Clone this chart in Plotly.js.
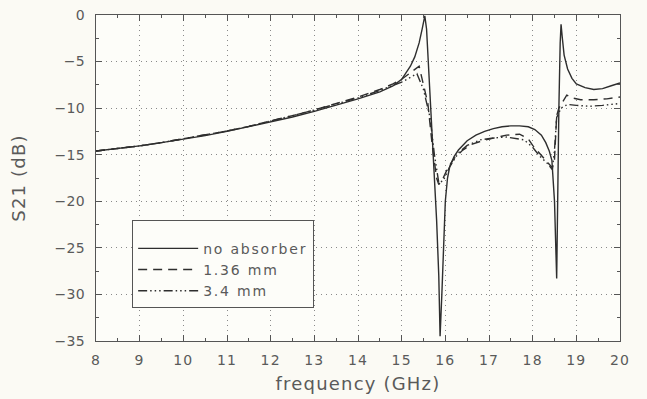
<!DOCTYPE html>
<html>
<head>
<meta charset="utf-8">
<script src="https://cdn.plot.ly/plotly-3.0.1.min.js"></script>
<style>
html,body{margin:0;padding:0;background:#fbfaf4;}
#chart{width:647px;height:399px;}
.xtick text{letter-spacing:1.2px;}
.ytick text{letter-spacing:0.3px;}
.xtitle,.ytitle{letter-spacing:1.2px;}
.legendtext{letter-spacing:1.8px;}
</style>
</head>
<body>
<div id="chart"></div>
<script>
// frequency (GHz) and S21 (dB)
const freqNoAbsorber = [8, 8.5, 9, 9.5, 10, 10.5, 11, 11.5, 12, 12.5, 13, 13.5, 14, 14.5, 14.8, 15.0, 15.2, 15.3, 15.4, 15.47, 15.53, 15.57, 15.62, 15.68, 15.74, 15.8, 15.85, 15.88, 15.92, 15.96, 16.0, 16.05, 16.1, 16.2, 16.3, 16.5, 16.7, 16.9, 17.1, 17.3, 17.5, 17.7, 17.9, 18.05, 18.2, 18.3, 18.38, 18.44, 18.5, 18.55, 18.57, 18.6, 18.63, 18.65, 18.68, 18.72, 18.8, 18.9, 19.0, 19.2, 19.4, 19.6, 19.8, 20];
const s21NoAbsorber = [-14.6, -14.35, -14.05, -13.7, -13.35, -12.95, -12.5, -12.0, -11.5, -10.95, -10.35, -9.7, -9.0, -8.25, -7.6, -6.9, -5.5, -4.5, -3.0, -1.5, -0.1, -1.5, -6.0, -11.0, -16.0, -22.0, -28.0, -34.5, -30.0, -24.0, -20.0, -17.5, -16.3, -15.2, -14.5, -13.5, -12.9, -12.5, -12.2, -12.0, -11.9, -11.9, -12.0, -12.3, -12.9, -13.7, -14.6, -15.6, -20.0, -28.3, -20.0, -10.0, -3.0, -1.0, -2.5, -4.3, -5.8, -6.8, -7.4, -7.8, -8.0, -7.9, -7.6, -7.3];

const freq136mm = [8, 8.5, 9, 9.5, 10, 10.5, 11, 11.5, 12, 12.5, 13, 13.5, 14, 14.5, 14.8, 15.0, 15.2, 15.4, 15.5, 15.6, 15.7, 15.8, 15.85, 15.95, 16.05, 16.2, 16.4, 16.6, 16.85, 17.1, 17.4, 17.7, 17.9, 18.0, 18.15, 18.3, 18.45, 18.5, 18.55, 18.6, 18.67, 18.78, 18.9, 19.1, 19.4, 19.7, 20];
const s21136mm = [-14.6, -14.35, -14.05, -13.7, -13.3, -12.9, -12.45, -11.95, -11.4, -10.8, -10.2, -9.5, -8.8, -8.0, -7.4, -6.9, -6.2, -5.5, -7.5, -9.5, -14.0, -17.5, -18.2, -17.5, -16.5, -15.4, -14.5, -13.9, -13.5, -13.2, -12.9, -12.8, -13.3, -14.0, -14.8, -15.6, -16.4, -15.5, -10.8, -10.0, -9.5, -8.6, -8.9, -9.1, -9.1, -9.0, -8.8];

const freq34mm = [8, 8.5, 9, 9.5, 10, 10.5, 11, 11.5, 12, 12.5, 13, 13.5, 14, 14.5, 14.8, 15.0, 15.2, 15.35, 15.5, 15.65, 15.75, 15.85, 15.95, 16.1, 16.3, 16.5, 16.8, 17.1, 17.4, 17.8, 18.0, 18.17, 18.33, 18.45, 18.5, 18.55, 18.65, 18.8, 19.0, 19.3, 19.6, 20];
const s2134mm = [-14.6, -14.35, -14.05, -13.7, -13.3, -12.9, -12.45, -11.95, -11.4, -10.8, -10.2, -9.55, -8.9, -8.1, -7.6, -7.2, -6.7, -6.3, -8.0, -11.0, -15.0, -18.0, -17.8, -16.3, -14.8, -14.0, -13.4, -13.2, -13.1, -13.4, -14.2, -15.2, -15.9, -16.6, -14.5, -11.0, -10.0, -9.6, -9.7, -9.8, -9.7, -9.5];

const seriesNames = ['no absorber', '1.36 mm', '3.4 mm'];
const xTickVals = [8, 9, 10, 11, 12, 13, 14, 15, 16, 17, 18, 19, 20];
const yTickVals = [0, -5, -10, -15, -20, -25, -30, -35];

const lineColor = '#2e2e2e';
const traces = [
  {x: freqNoAbsorber, y: s21NoAbsorber, name: seriesNames[0], mode: 'lines',
   line: {color: lineColor, width: 1.4, dash: 'solid'}},
  {x: freq136mm, y: s21136mm, name: seriesNames[1], mode: 'lines',
   line: {color: lineColor, width: 1.4, dash: '9px,6px'}},
  {x: freq34mm, y: s2134mm, name: seriesNames[2], mode: 'lines',
   line: {color: lineColor, width: 1.4, dash: '9px,3px,1.5px,3px,1.5px,3px,1.5px,3px'}}
];

const fam = 'DejaVu Sans, sans-serif';
const axisFont = {family: fam, size: 14, color: '#5a5a5a'};
const layout = {
  width: 647, height: 399,
  margin: {l: 96, r: 27, t: 15, b: 58},
  paper_bgcolor: '#fbfaf4',
  plot_bgcolor: '#fdfdf9',
  showlegend: true,
  legend: {
    x: 0.069, y: 0.371, xanchor: 'left', yanchor: 'top',
    bgcolor: '#fdfdf9', bordercolor: '#555', borderwidth: 1,
    font: {family: fam, size: 14, color: '#5a5a5a'},
    title: {text: '\u00a0', font: {family: fam, size: 9}},
    tracegroupgap: 0, itemwidth: 60
  },
  xaxis: {
    range: [8, 20], tickvals: xTickVals, ticktext: xTickVals.map(String),
    ticks: 'inside', ticklen: 6, tickcolor: '#555', ticklabelstandoff: 6,
    showline: true, linecolor: '#555', linewidth: 1.2, mirror: 'ticks',
    showgrid: true, gridcolor: '#8a8a8a', griddash: '1px,4px', gridwidth: 1,
    zeroline: false, tickfont: axisFont,
    minor: {dtick: 0.5, tick0: 8, ticks: 'inside', ticklen: 3, tickcolor: '#555', showgrid: false},
    title: {text: 'frequency (GHz)', font: {family: fam, size: 18, color: '#5a5a5a'}, standoff: 10}
  },
  yaxis: {
    range: [-35, 0], tickvals: yTickVals, ticktext: yTickVals.map(v => v === 0 ? '0' : '\u2212' + Math.abs(v)),
    ticks: 'inside', ticklen: 6, tickcolor: '#555', ticklabelstandoff: 7,
    showline: true, linecolor: '#555', linewidth: 1.2, mirror: 'ticks',
    showgrid: true, gridcolor: '#8a8a8a', griddash: '1px,4px', gridwidth: 1,
    zeroline: false, tickfont: axisFont,
    minor: {dtick: 2.5, tick0: 0, ticks: 'inside', ticklen: 3, tickcolor: '#555', showgrid: false},
    title: {text: 'S21 (dB)', font: {family: fam, size: 18, color: '#5a5a5a'}, standoff: 24}
  }
};

Plotly.newPlot('chart', traces, layout, {staticPlot: true, displayModeBar: false});
</script>
</body>
</html>
